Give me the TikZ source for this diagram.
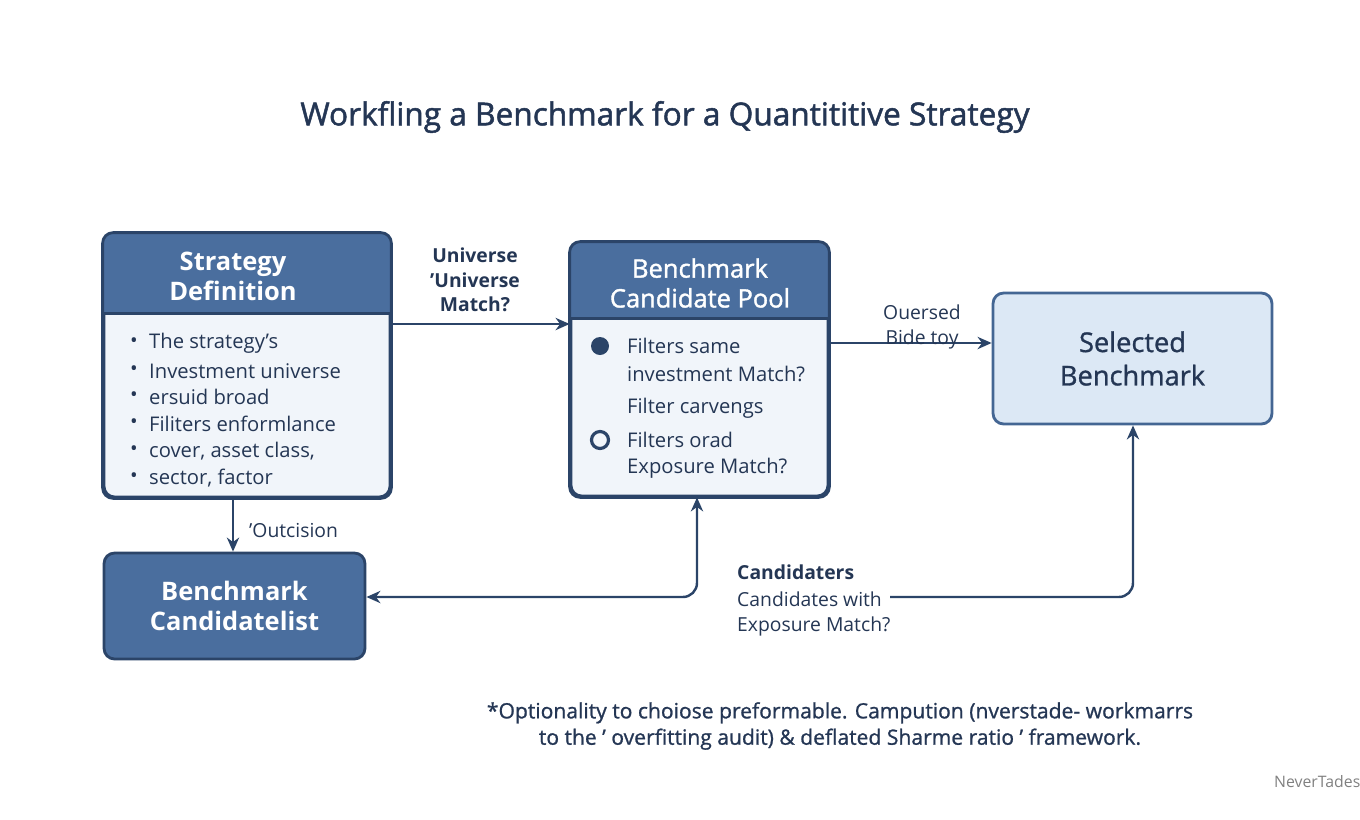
\documentclass[tikz,border=0pt]{standalone}
\usepackage{fontspec}
\setmainfont{Open Sans}
\usetikzlibrary{positioning,arrows.meta}
\definecolor{navy}{HTML}{2B4468}
\definecolor{hdrblue}{HTML}{4A6E9E}
\definecolor{bodyblue}{HTML}{F1F5FA}
\definecolor{selblue}{HTML}{DCE8F5}
\definecolor{titlecol}{HTML}{243654}
\tikzset{
  box/.style={draw=navy, line width=1.6pt, rounded corners=6pt, fill=bodyblue},
  hdrtext/.style={text=white, font=\fontsize{14.5}{17}\selectfont\bfseries, align=center},
  bodytext/.style={text=titlecol, font=\fontsize{11.5}{14}\selectfont, anchor=west},
  lbl/.style={text=titlecol, font=\fontsize{11}{14}\selectfont, align=center},
  flow/.style={draw=navy, line width=1.4pt, -{Stealth[length=8pt,width=7pt]}},
}
\begin{document}
\begin{tikzpicture}[x=0.02cm,y=-0.02cm]
\useasboundingbox (0,0) rectangle (1360,819);

% Title
\node[text=titlecol, font=\fontsize{18}{20}\selectfont\addfontfeatures{FakeBold=1.5}] (title) at (665,117) {Workfling a Benchmark for a Quantititive Strategy};

% Strategy definition
\node[box, minimum width=5.72cm, minimum height=5.26cm] (sd) at (247,365.5) {};
\fill[hdrblue] ([yshift=-1.62cm]sd.north west) {[rounded corners=6pt] -- (sd.north west) -- (sd.north east)} -- ([yshift=-1.62cm]sd.north east) -- cycle;
\draw[navy, line width=1.6pt] ([yshift=-1.62cm]sd.north west) -- ([yshift=-1.62cm]sd.north east);
\draw[navy, line width=1.6pt, rounded corners=6pt] (sd.north west) rectangle (sd.south east);
\node[hdrtext] (sdhead) at (233,276) {Strategy\\Definition};
\foreach \y/\t in {343/The strategy's, 371/Investment universe, 397/ersuid broad, 424/Filiters  enformlance, 451/{cover, asset class,}, 478/{sector, factor}} {
  \node[bodytext] at (124,\y) {•};
  \node[bodytext] at (143,\y) {\t};
}

% Candidate pool
\node[box, minimum width=5.14cm, minimum height=5.06cm] (pool) at (699.5,369.5) {};
\fill[hdrblue] ([yshift=-1.54cm]pool.north west) {[rounded corners=6pt] -- (pool.north west) -- (pool.north east)} -- ([yshift=-1.54cm]pool.north east) -- cycle;
\draw[navy, line width=1.6pt] ([yshift=-1.54cm]pool.north west) -- ([yshift=-1.54cm]pool.north east);
\draw[navy, line width=1.6pt, rounded corners=6pt] (pool.north west) rectangle (pool.south east);
\node[hdrtext, font=\fontsize{14.5}{17}\selectfont\addfontfeatures{FakeBold=1.5}] (poolhead) at (700,283) {Benchmark\\Candidate Pool};
\fill[navy] (600,346) circle (9);
\draw[navy, line width=1.8pt] (600,440) circle (8.5);
\foreach \y/\t in {346/Filters same, 374/investment Match?, 408/Filter carvengs, 440/Filters orad, 468/Exposure Match?}
  \node[bodytext] at (621,\y) {\t};

% Selected benchmark
\node[box, fill=selblue, draw=hdrblue!80!navy, minimum width=5.58cm, minimum height=2.62cm, text=titlecol, align=center, font=\fontsize{15.5}{19}\selectfont\addfontfeatures{FakeBold=1}] (sel) at (1132.5,358.5) {Selected\\Benchmark};

% Candidate list
\node[box, fill=hdrblue, minimum width=5.22cm, minimum height=2.12cm, hdrtext] (list) at (234.5,606) {Benchmark\\Candidatelist};

% Connectors
\draw[flow] (sd.east |- 0,324) -- (pool.west |- 0,324);
\node[lbl, font=\fontsize{11}{14}\selectfont\bfseries] (lbluni) at (475,280) {Universe\\'Universe\\Match?};
\draw[flow] (pool.east |- 0,343) -- (sel.west |- 0,343);
\node[lbl] (lblover) at (922,327) {Ouersed\\Bide toy};
\draw[flow] (sd.south -| 233,0) -- (list.north -| 233,0);
\node[lbl, anchor=west] (lblout) at (243,530) {'Outcision};
\coordinate (turn) at (697,597);
\draw[flow, {Stealth[length=8pt,width=7pt]}-{Stealth[length=8pt,width=7pt]}, rounded corners=8pt] (list.east |- turn) -- (turn) -- (pool.south -| turn);
\coordinate (gap) at (890,597);
\draw[flow, rounded corners=8pt] (gap) -- (1133,597) -- (sel.south -| 1133,0);
\node[lbl, align=left, anchor=west, font=\fontsize{11}{14}\selectfont\bfseries] (lblcand) at (731,572) {Candidaters};
\node[lbl, align=left, anchor=west] (lblwith) at (731,614) {Candidates with\\Exposure Match?};

% Footnote
\node[lbl, font=\fontsize{12}{15}\selectfont\addfontfeatures{FakeBold=1}] (foot) at (840,726) {*Optionality to choiose preformable. Campution (nverstade- workmarrs\\to the ʼ overfitting audit) \& deflated Sharme ratio ʼ framework.};
\node[text=gray, anchor=west, font=\fontsize{9}{11}\selectfont] (mark) at (1268,782) {NeverTades};
\end{tikzpicture}
\end{document}
